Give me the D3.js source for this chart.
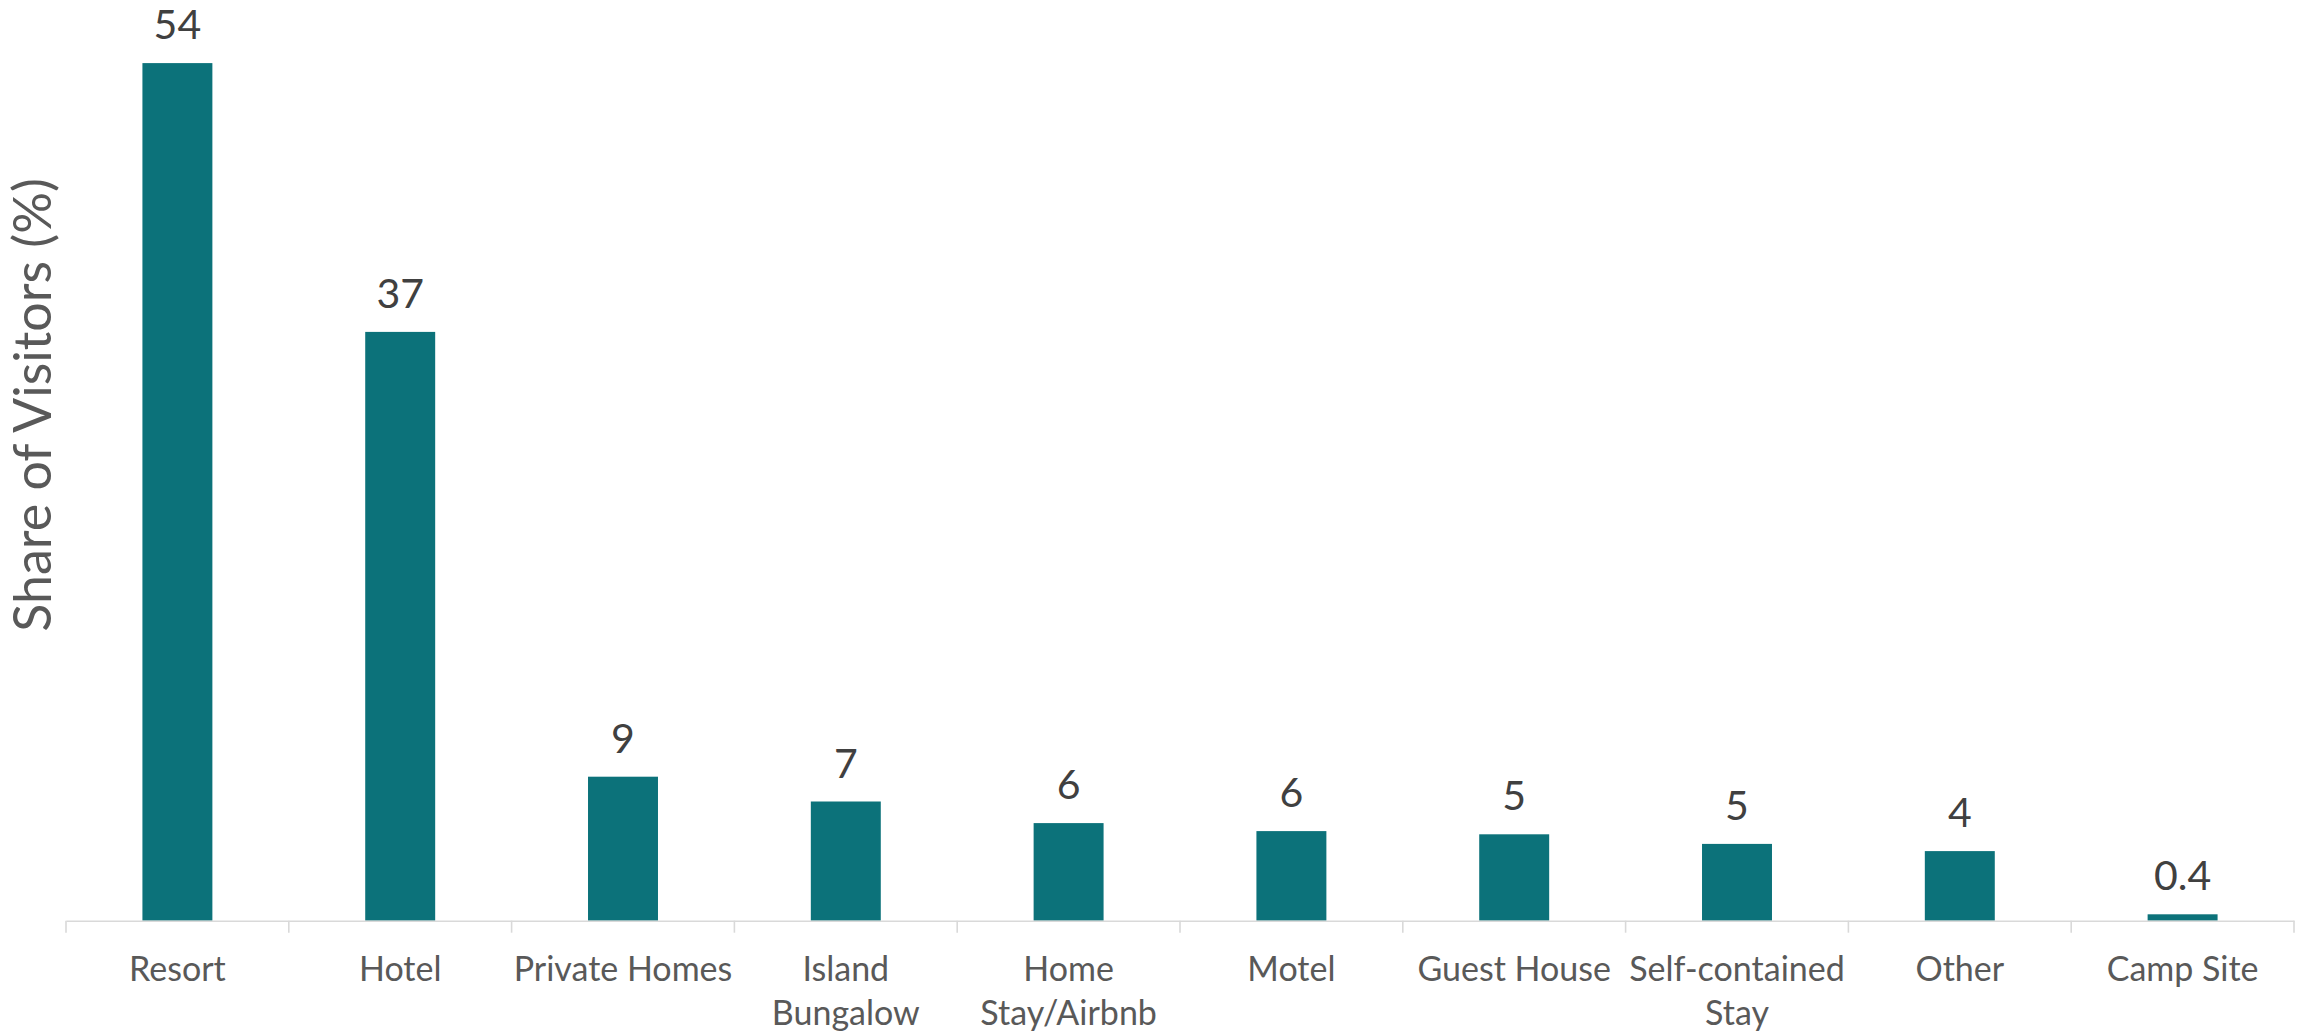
<!DOCTYPE html>
<html>
<head>
<meta charset="utf-8">
<script src="https://cdn.jsdelivr.net/npm/d3@7"></script>
<style>
  html, body { margin: 0; padding: 0; background: #ffffff; }
  svg { display: block; font-family: Lato, "Open Sans", sans-serif; }
</style>
</head>
<body>
<svg id="chart" width="2306" height="1035"></svg>
<script>
// Accommodation type used by visitors
const categories = [
  "Resort", "Hotel", "Private Homes", "Island Bungalow", "Home Stay/Airbnb",
  "Motel", "Guest House", "Self-contained Stay", "Other", "Camp Site"
];
// Axis label text, one entry per category, lines split by "\n"
const tickLabels = [
  "Resort", "Hotel", "Private Homes", "Island\nBungalow", "Home\nStay/Airbnb",
  "Motel", "Guest House", "Self-contained\nStay", "Other", "Camp Site"
];
// Share of visitors (%)
const shares = [53.6, 36.8, 9.0, 7.45, 6.1, 5.6, 5.4, 4.8, 4.35, 0.4];
const yTitle = "Share of Visitors (%)";

const svg = d3.select("#chart");
const margin = { left: 66, right: 12, bottom: 114.3 };
const W = 2306, H = 1035;
const baseline = H - margin.bottom;
const pxPerUnit = 16.0;

const x = d3.scaleBand()
  .domain(categories)
  .range([margin.left, W - margin.right])
  .paddingInner(0.686)
  .paddingOuter(0.343);

const y = d3.scaleLinear()
  .domain([0, 55])
  .range([baseline, baseline - 55 * pxPerUnit]);

const barColor = "#0c727a";
const fmt = v => v < 1 ? d3.format(".1f")(v) : d3.format(".0f")(v);

// Bars
svg.append("g")
  .selectAll("rect")
  .data(categories)
  .join("rect")
  .attr("x", d => x(d))
  .attr("width", x.bandwidth())
  .attr("y", (d, i) => y(shares[i]))
  .attr("height", (d, i) => y(0) - y(shares[i]))
  .attr("fill", barColor);

// Value labels above bars
svg.append("g")
  .selectAll("text")
  .data(categories)
  .join("text")
  .attr("x", d => x(d) + x.bandwidth() / 2)
  .attr("y", (d, i) => y(shares[i]) - 24)
  .attr("text-anchor", "middle")
  .attr("font-size", 41)
  .attr("fill", "#404040")
  .text((d, i) => fmt(shares[i]));

// Category axis
const xAxis = d3.axisBottom(x).tickSize(0).tickSizeOuter(0).tickFormat(() => "");
const gx = svg.append("g")
  .attr("transform", `translate(0,${baseline})`)
  .call(xAxis);
gx.select(".domain")
  .attr("stroke", "#d9d9d9")
  .attr("stroke-width", 1.6);

// Tick marks between categories
const step = x.step();
const edges = d3.range(categories.length + 1).map(i => x.range()[0] + i * step);
gx.append("g")
  .selectAll("line")
  .data(edges)
  .join("line")
  .attr("x1", d => d).attr("x2", d => d)
  .attr("y1", 0).attr("y2", 12)
  .attr("stroke", "#d9d9d9")
  .attr("stroke-width", 1.6);

// Multi-line category labels
gx.selectAll(".tick").each(function (d) {
  const i = categories.indexOf(d);
  const lines = tickLabels[i].split("\n");
  const t = d3.select(this).select("text")
    .attr("y", 0)
    .attr("dy", null)
    .attr("font-size", 34)
    .attr("font-family", "Lato, 'Open Sans', sans-serif")
    .attr("fill", "#595959")
    .text(null);
  lines.forEach((ln, k) => {
    t.append("tspan")
      .attr("x", 0)
      .attr("y", 60 + k * 44)
      .text(ln);
  });
});

// Y axis title
svg.append("text")
  .attr("transform", `translate(51,405) rotate(-90)`)
  .attr("text-anchor", "middle")
  .attr("font-size", 52)
  .attr("fill", "#595959")
  .text(yTitle);
</script>
</body>
</html>
